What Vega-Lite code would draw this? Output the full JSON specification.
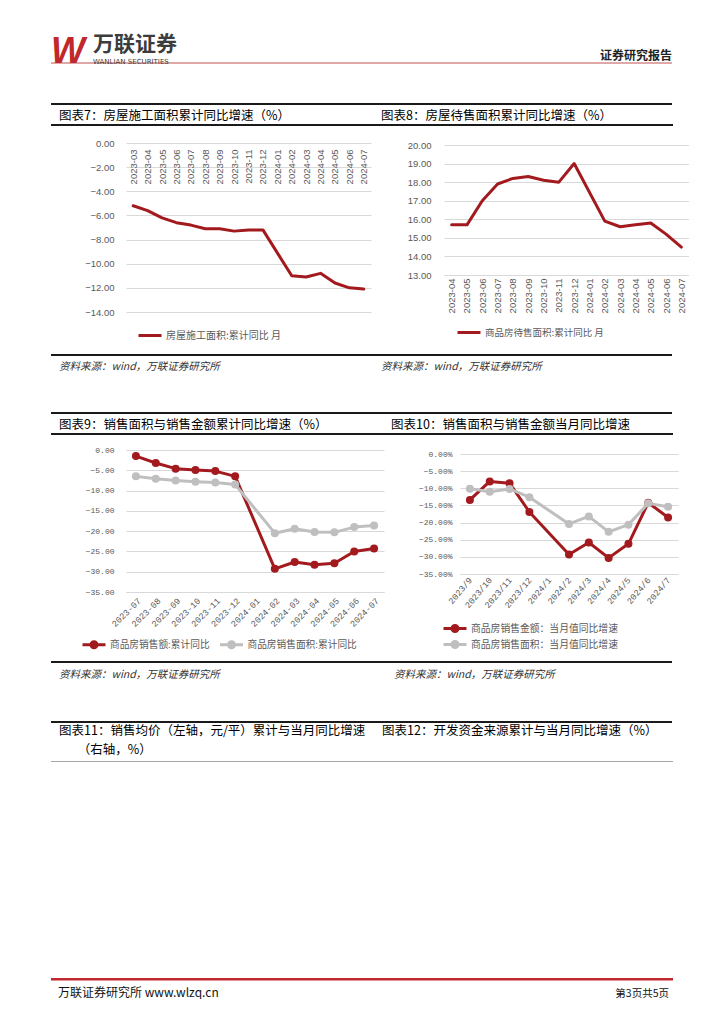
{
  "$schema": "https://vega.github.io/schema/vega-lite/v6.json",
  "background": "white",
  "padding": {"left": 50, "top": 33, "right": 0, "bottom": 0},
  "autosize": {"type": "pad"},
  "spacing": 0,
  "resolve": {"scale": {"color": "independent"}, "legend": {"color": "independent"}},
  "config": {
    "view": {"stroke": null},
    "concat": {"spacing": 0},
    "font": "Noto Sans CJK SC",
    "title": {"font": "Noto Sans CJK SC", "fontWeight": "normal", "color": "#000000", "anchor": "start", "baseline": "top", "fontSize": 12.5},
    "axis": {"ticks": false, "tickSize": 0, "labelColor": "#595959", "gridColor": "#D9D9D9", "gridWidth": 1},
    "legend": {"padding": 0, "labelColor": "#595959", "labelFont": "Noto Sans CJK SC", "symbolOpacity": 1}
  },
  "datasets": {
    "c7": [
      {"month": "2023-03", "value": -5.2, "series": "房屋施工面积:累计同比 月"},
      {"month": "2023-04", "value": -5.6, "series": "房屋施工面积:累计同比 月"},
      {"month": "2023-05", "value": -6.2, "series": "房屋施工面积:累计同比 月"},
      {"month": "2023-06", "value": -6.6, "series": "房屋施工面积:累计同比 月"},
      {"month": "2023-07", "value": -6.8, "series": "房屋施工面积:累计同比 月"},
      {"month": "2023-08", "value": -7.1, "series": "房屋施工面积:累计同比 月"},
      {"month": "2023-09", "value": -7.1, "series": "房屋施工面积:累计同比 月"},
      {"month": "2023-10", "value": -7.3, "series": "房屋施工面积:累计同比 月"},
      {"month": "2023-11", "value": -7.2, "series": "房屋施工面积:累计同比 月"},
      {"month": "2023-12", "value": -7.2, "series": "房屋施工面积:累计同比 月"},
      {"month": "2024-02", "value": -11.0, "series": "房屋施工面积:累计同比 月"},
      {"month": "2024-03", "value": -11.1, "series": "房屋施工面积:累计同比 月"},
      {"month": "2024-04", "value": -10.8, "series": "房屋施工面积:累计同比 月"},
      {"month": "2024-05", "value": -11.6, "series": "房屋施工面积:累计同比 月"},
      {"month": "2024-06", "value": -12.0, "series": "房屋施工面积:累计同比 月"},
      {"month": "2024-07", "value": -12.1, "series": "房屋施工面积:累计同比 月"}
    ],
    "c8": [
      {"month": "2023-04", "value": 15.7, "series": "商品房待售面积:累计同比 月"},
      {"month": "2023-05", "value": 15.7, "series": "商品房待售面积:累计同比 月"},
      {"month": "2023-06", "value": 17.0, "series": "商品房待售面积:累计同比 月"},
      {"month": "2023-07", "value": 17.9, "series": "商品房待售面积:累计同比 月"},
      {"month": "2023-08", "value": 18.2, "series": "商品房待售面积:累计同比 月"},
      {"month": "2023-09", "value": 18.3, "series": "商品房待售面积:累计同比 月"},
      {"month": "2023-10", "value": 18.1, "series": "商品房待售面积:累计同比 月"},
      {"month": "2023-11", "value": 18.0, "series": "商品房待售面积:累计同比 月"},
      {"month": "2023-12", "value": 19.0, "series": "商品房待售面积:累计同比 月"},
      {"month": "2024-02", "value": 15.9, "series": "商品房待售面积:累计同比 月"},
      {"month": "2024-03", "value": 15.6, "series": "商品房待售面积:累计同比 月"},
      {"month": "2024-04", "value": 15.7, "series": "商品房待售面积:累计同比 月"},
      {"month": "2024-05", "value": 15.8, "series": "商品房待售面积:累计同比 月"},
      {"month": "2024-06", "value": 15.2, "series": "商品房待售面积:累计同比 月"},
      {"month": "2024-07", "value": 14.5, "series": "商品房待售面积:累计同比 月"}
    ],
    "c9": [
      {"month": "2023-07", "value": -1.5, "series": "商品房销售额:累计同比"},
      {"month": "2023-08", "value": -3.2, "series": "商品房销售额:累计同比"},
      {"month": "2023-09", "value": -4.6, "series": "商品房销售额:累计同比"},
      {"month": "2023-10", "value": -4.9, "series": "商品房销售额:累计同比"},
      {"month": "2023-11", "value": -5.2, "series": "商品房销售额:累计同比"},
      {"month": "2023-12", "value": -6.5, "series": "商品房销售额:累计同比"},
      {"month": "2024-02", "value": -29.3, "series": "商品房销售额:累计同比"},
      {"month": "2024-03", "value": -27.6, "series": "商品房销售额:累计同比"},
      {"month": "2024-04", "value": -28.3, "series": "商品房销售额:累计同比"},
      {"month": "2024-05", "value": -27.9, "series": "商品房销售额:累计同比"},
      {"month": "2024-06", "value": -25.0, "series": "商品房销售额:累计同比"},
      {"month": "2024-07", "value": -24.3, "series": "商品房销售额:累计同比"},
      {"month": "2023-07", "value": -6.5, "series": "商品房销售面积:累计同比"},
      {"month": "2023-08", "value": -7.1, "series": "商品房销售面积:累计同比"},
      {"month": "2023-09", "value": -7.5, "series": "商品房销售面积:累计同比"},
      {"month": "2023-10", "value": -7.8, "series": "商品房销售面积:累计同比"},
      {"month": "2023-11", "value": -8.0, "series": "商品房销售面积:累计同比"},
      {"month": "2023-12", "value": -8.5, "series": "商品房销售面积:累计同比"},
      {"month": "2024-02", "value": -20.5, "series": "商品房销售面积:累计同比"},
      {"month": "2024-03", "value": -19.4, "series": "商品房销售面积:累计同比"},
      {"month": "2024-04", "value": -20.2, "series": "商品房销售面积:累计同比"},
      {"month": "2024-05", "value": -20.3, "series": "商品房销售面积:累计同比"},
      {"month": "2024-06", "value": -19.0, "series": "商品房销售面积:累计同比"},
      {"month": "2024-07", "value": -18.6, "series": "商品房销售面积:累计同比"}
    ],
    "c10": [
      {"month": "2023/9", "value": -13.4, "series": "商品房销售金额：当月值同比增速"},
      {"month": "2023/10", "value": -8.0, "series": "商品房销售金额：当月值同比增速"},
      {"month": "2023/11", "value": -8.5, "series": "商品房销售金额：当月值同比增速"},
      {"month": "2023/12", "value": -16.9, "series": "商品房销售金额：当月值同比增速"},
      {"month": "2024/2", "value": -29.3, "series": "商品房销售金额：当月值同比增速"},
      {"month": "2024/3", "value": -25.8, "series": "商品房销售金额：当月值同比增速"},
      {"month": "2024/4", "value": -30.3, "series": "商品房销售金额：当月值同比增速"},
      {"month": "2024/5", "value": -26.2, "series": "商品房销售金额：当月值同比增速"},
      {"month": "2024/6", "value": -14.2, "series": "商品房销售金额：当月值同比增速"},
      {"month": "2024/7", "value": -18.5, "series": "商品房销售金额：当月值同比增速"},
      {"month": "2023/9", "value": -10.1, "series": "商品房销售面积：当月值同比增速"},
      {"month": "2023/10", "value": -11.0, "series": "商品房销售面积：当月值同比增速"},
      {"month": "2023/11", "value": -10.2, "series": "商品房销售面积：当月值同比增速"},
      {"month": "2023/12", "value": -12.6, "series": "商品房销售面积：当月值同比增速"},
      {"month": "2024/2", "value": -20.4, "series": "商品房销售面积：当月值同比增速"},
      {"month": "2024/3", "value": -18.2, "series": "商品房销售面积：当月值同比增速"},
      {"month": "2024/4", "value": -22.7, "series": "商品房销售面积：当月值同比增速"},
      {"month": "2024/5", "value": -20.6, "series": "商品房销售面积：当月值同比增速"},
      {"month": "2024/6", "value": -14.4, "series": "商品房销售面积：当月值同比增速"},
      {"month": "2024/7", "value": -15.4, "series": "商品房销售面积：当月值同比增速"}
    ]
  },
  "vconcat": [
    {
      "hconcat": [
        {
          "width": 621, "height": 28,
          "data": {"values": [{}]},
          "layer": [
            {"mark": {"type": "rule", "color": "#C0504D", "strokeWidth": 1.2},
             "encoding": {"y": {"datum": 0, "type": "quantitative", "scale": {"domain": [0, 1]}, "axis": null}}},
            {"mark": {"type": "text", "text": "W", "align": "left", "baseline": "alphabetic", "font": "Liberation Sans", "fontSize": 36, "fontWeight": "bold", "fontStyle": "italic", "color": "#C1272D"},
             "encoding": {"x": {"datum": 0, "type": "quantitative", "scale": {"domain": [0, 1]}, "axis": null}, "y": {"datum": 0, "type": "quantitative", "axis": null}}},
            {"mark": {"type": "text", "text": "万联证券", "align": "left", "baseline": "alphabetic", "dx": 42, "dy": -12.5, "font": "Noto Sans CJK SC", "fontSize": 21, "fontWeight": "bold", "color": "#3C3C3C"},
             "encoding": {"x": {"datum": 0, "type": "quantitative", "axis": null}, "y": {"datum": 0, "type": "quantitative", "axis": null}}},
            {"mark": {"type": "text", "text": "WANLIAN SECURITIES", "align": "left", "baseline": "alphabetic", "dx": 42, "dy": 0.5, "font": "DejaVu Sans", "fontSize": 7, "color": "#3C3C3C"},
             "encoding": {"x": {"datum": 0, "type": "quantitative", "axis": null}, "y": {"datum": 0, "type": "quantitative", "axis": null}}},
            {"mark": {"type": "text", "text": "证券研究报告", "align": "right", "baseline": "alphabetic", "dy": -3, "font": "Noto Sans CJK SC", "fontSize": 12, "fontWeight": "bold", "color": "#222222"},
             "encoding": {"x": {"datum": 1, "type": "quantitative", "axis": null}, "y": {"datum": 0, "type": "quantitative", "axis": null}}}
          ]
        },
        {"width": 1, "height": 68, "data": {"values": []}, "mark": "point"}
      ]
    },
    {
      "hconcat": [
        {"width": 323, "height": 2, "data": {"values": []}, "mark": "point", "view": {"fill": "#1A1A1A", "stroke": null},
         "title": {"text": "图表7：房屋施工面积累计同比增速（%）", "orient": "bottom", "anchor": "start", "dx": 8, "offset": 4.5}},
        {"width": 298, "height": 2, "data": {"values": []}, "mark": "point", "view": {"fill": "#1A1A1A", "stroke": null},
         "title": {"text": "图表8：房屋待售面积累计同比增速（%）", "orient": "bottom", "anchor": "start", "dx": 7, "offset": 4.5}},
        {"width": 1, "height": 21, "data": {"values": []}, "mark": "point"}
      ]
    },
    {
      "hconcat": [
        {"width": 622, "height": 2, "data": {"values": []}, "mark": "point", "view": {"fill": "#1A1A1A", "stroke": null}},
        {"width": 1, "height": 14, "data": {"values": []}, "mark": "point"}
      ]
    },
    {
      "resolve": {"scale": {"color": "independent"}, "legend": {"color": "independent"}},
      "hconcat": [
        {"width": 0, "height": 211, "data": {"values": []}, "mark": "point"},
        {
          "width": 245, "height": 169,
          "data": {"name": "c7"},
          "mark": {"type": "line", "strokeWidth": 3, "strokeJoin": "round", "strokeCap": "round"},
          "encoding": {
            "x": {"field": "month", "type": "ordinal", "sort": null,
                  "scale": {"type": "point", "padding": 0.5, "domain": ["2023-03","2023-04","2023-05","2023-06","2023-07","2023-08","2023-09","2023-10","2023-11","2023-12","2024-01","2024-02","2024-03","2024-04","2024-05","2024-06","2024-07"]},
                  "axis": {"title": null, "orient": "top", "labelAngle": -90, "labelAlign": "right", "labelBaseline": "middle", "labelPadding": -6, "tickSize": 0, "ticks": false, "domain": false, "grid": false, "labelFont": "Liberation Sans", "labelFontSize": 9.5, "labelOverlap": false}},
            "y": {"field": "value", "type": "quantitative", "scale": {"domain": [-14, 0], "nice": false, "zero": false},
                  "axis": {"title": null, "values": [0, -2, -4, -6, -8, -10, -12, -14], "format": ".2f", "labelPadding": 12, "minExtent": 55, "maxExtent": 55, "domain": false, "ticks": false, "grid": true, "labelFont": "Liberation Sans", "labelFontSize": 9.5}},
            "color": {"field": "series", "type": "nominal", "scale": {"range": ["#A31A1E"]},
                      "legend": {"orient": "none", "legendX": 17.5, "legendY": 186, "direction": "horizontal", "title": null, "symbolType": "M-2.3,0H2.3", "symbolSize": 100, "symbolStrokeWidth": 3, "labelFontSize": 10, "labelOffset": 9.5, "labelLimit": 400}}
          }
        },
        {
          "width": 245, "height": 132,
          "data": {"name": "c8"},
          "mark": {"type": "line", "strokeWidth": 3, "strokeJoin": "round", "strokeCap": "round"},
          "encoding": {
            "x": {"field": "month", "type": "ordinal", "sort": null,
                  "scale": {"type": "point", "padding": 0.5, "domain": ["2023-04","2023-05","2023-06","2023-07","2023-08","2023-09","2023-10","2023-11","2023-12","2024-01","2024-02","2024-03","2024-04","2024-05","2024-06","2024-07"]},
                  "axis": {"title": null, "labelAngle": -90, "labelAlign": "right", "labelBaseline": "middle", "labelPadding": 3, "tickSize": 0, "ticks": false, "domain": true, "domainColor": "#D9D9D9", "grid": false, "labelFont": "Liberation Sans", "labelFontSize": 9.5, "labelOverlap": false}},
            "y": {"field": "value", "type": "quantitative", "scale": {"domain": [13, 20.108], "nice": false, "zero": false},
                  "axis": {"title": null, "values": [13, 14, 15, 16, 17, 18, 19, 20], "format": ".2f", "labelPadding": 13, "minExtent": 73, "maxExtent": 73, "domain": false, "ticks": false, "grid": true, "labelFont": "Liberation Sans", "labelFontSize": 9.5}},
            "color": {"field": "series", "type": "nominal", "scale": {"range": ["#A31A1E"]},
                      "legend": {"orient": "none", "legendX": 18.5, "legendY": 183, "direction": "horizontal", "title": null, "symbolType": "M-2.3,0H2.3", "symbolSize": 100, "symbolStrokeWidth": 3, "labelFontSize": 9.5, "labelOffset": 9.5, "labelLimit": 400}}
          }
        }
      ]
    },
    {
      "hconcat": [
        {"width": 323, "height": 2, "data": {"values": []}, "mark": "point", "view": {"fill": "#1A1A1A", "stroke": null},
         "title": {"text": "资料来源：wind，万联证券研究所", "orient": "bottom", "anchor": "start", "dx": 8, "offset": 5.7, "fontSize": 10.5, "fontStyle": "italic", "color": "#333333"}},
        {"width": 298, "height": 2, "data": {"values": []}, "mark": "point", "view": {"fill": "#1A1A1A", "stroke": null},
         "title": {"text": "资料来源：wind，万联证券研究所", "orient": "bottom", "anchor": "start", "dx": 7, "offset": 5.7, "fontSize": 10.5, "fontStyle": "italic", "color": "#333333"}},
        {"width": 1, "height": 58, "data": {"values": []}, "mark": "point"}
      ]
    },
    {
      "hconcat": [
        {"width": 323, "height": 2, "data": {"values": []}, "mark": "point", "view": {"fill": "#1A1A1A", "stroke": null},
         "title": {"text": "图表9：销售面积与销售金额累计同比增速（%）", "orient": "bottom", "anchor": "start", "dx": 8, "offset": 5}},
        {"width": 298, "height": 2, "data": {"values": []}, "mark": "point", "view": {"fill": "#1A1A1A", "stroke": null},
         "title": {"text": "图表10：销售面积与销售金额当月同比增速", "orient": "bottom", "anchor": "start", "dx": 17, "offset": 5}},
        {"width": 1, "height": 21, "data": {"values": []}, "mark": "point"}
      ]
    },
    {
      "hconcat": [
        {"width": 622, "height": 2, "data": {"values": []}, "mark": "point", "view": {"fill": "#1A1A1A", "stroke": null}},
        {"width": 1, "height": 13, "data": {"values": []}, "mark": "point"}
      ]
    },
    {
      "resolve": {"scale": {"color": "independent"}, "legend": {"color": "independent"}},
      "hconcat": [
        {"width": 0, "height": 211, "data": {"values": []}, "mark": "point"},
        {
          "width": 258, "height": 142,
          "data": {"name": "c9"},
          "encoding": {
            "x": {"field": "month", "type": "ordinal", "sort": null,
                  "scale": {"type": "point", "padding": 0.5, "domain": ["2023-07","2023-08","2023-09","2023-10","2023-11","2023-12","2024-01","2024-02","2024-03","2024-04","2024-05","2024-06","2024-07"]},
                  "axis": {"title": null, "labelAngle": -45, "labelPadding": 4, "tickSize": 0, "ticks": false, "domain": true, "domainColor": "#D9D9D9", "grid": false, "labelFont": "Liberation Mono", "labelFontSize": 8.8, "labelOverlap": false}},
            "y": {"field": "value", "type": "quantitative", "scale": {"domain": [-35, 0], "nice": false, "zero": false},
                  "axis": {"title": null, "values": [0, -5, -10, -15, -20, -25, -30, -35], "format": ".2f", "labelPadding": 12, "minExtent": 55, "maxExtent": 55, "domain": false, "ticks": false, "grid": true, "labelFont": "Liberation Mono", "labelFontSize": 8}},
            "color": {"field": "series", "type": "nominal", "sort": null,
                      "scale": {"domain": ["商品房销售额:累计同比", "商品房销售面积:累计同比"], "range": ["#A31A1E", "#BFBFBF"]},
                      "legend": {"orient": "none", "legendX": -38.5, "legendY": 188, "direction": "horizontal", "title": null,
                                 "symbolType": "M-2.3,0H2.3M-0.6,0A0.6,0.6 0 1,0 0.6,0A0.6,0.6 0 1,0 -0.6,0Z", "symbolSize": 100, "symbolStrokeWidth": 3,
                                 "labelFontSize": 9.7, "labelOffset": 9.5, "columnPadding": 3.5, "labelLimit": 400,
                                 "encode": {"symbols": {"update": {
                                   "fill": {"signal": "datum.index == 0 ? '#A31A1E' : '#BFBFBF'"},
                                   "stroke": {"signal": "datum.index == 0 ? '#A31A1E' : '#BFBFBF'"},
                                   "strokeWidth": {"value": 3},
                                   "opacity": {"value": 1},
                                   "shape": {"value": "M-2.3,0H2.3M-0.6,0A0.6,0.6 0 1,0 0.6,0A0.6,0.6 0 1,0 -0.6,0Z"},
                                   "size": {"value": 100}
                                 }}}}}
          },
          "layer": [
            {"mark": {"type": "line", "strokeWidth": 3, "strokeJoin": "round"}},
            {"mark": {"type": "point", "filled": true, "size": 64, "opacity": 1}}
          ]
        },
        {
          "width": 218, "height": 124,
          "data": {"name": "c10"},
          "encoding": {
            "x": {"field": "month", "type": "ordinal", "sort": null,
                  "scale": {"type": "point", "padding": 0.5, "domain": ["2023/9","2023/10","2023/11","2023/12","2024/1","2024/2","2024/3","2024/4","2024/5","2024/6","2024/7"]},
                  "axis": {"title": null, "labelAngle": -50, "labelPadding": 4, "tickSize": 0, "ticks": false, "domain": true, "domainColor": "#D9D9D9", "grid": false, "labelFont": "Liberation Mono", "labelFontSize": 8.8, "labelOverlap": false}},
            "y": {"field": "value", "type": "quantitative", "scale": {"domain": [-35, 1.1667], "nice": false, "zero": false},
                  "axis": {"title": null, "values": [0, -5, -10, -15, -20, -25, -30, -35], "format": ".2f", "labelExpr": "datum.label + '%'", "labelPadding": 8, "minExtent": 76, "maxExtent": 76, "domain": false, "ticks": false, "grid": true, "labelFont": "Liberation Mono", "labelFontSize": 8}},
            "color": {"field": "series", "type": "nominal", "sort": null,
                      "scale": {"domain": ["商品房销售金额：当月值同比增速", "商品房销售面积：当月值同比增速"], "range": ["#A31A1E", "#BFBFBF"]},
                      "legend": {"orient": "none", "legendX": -11.5, "legendY": 172, "direction": "vertical", "title": null,
                                 "symbolType": "M-2.3,0H2.3M-0.6,0A0.6,0.6 0 1,0 0.6,0A0.6,0.6 0 1,0 -0.6,0Z", "symbolSize": 100, "symbolStrokeWidth": 3,
                                 "labelFontSize": 9.8, "labelOffset": 9.5, "rowPadding": -4, "labelLimit": 400,
                                 "encode": {"symbols": {"update": {
                                   "fill": {"signal": "datum.index == 0 ? '#A31A1E' : '#BFBFBF'"},
                                   "stroke": {"signal": "datum.index == 0 ? '#A31A1E' : '#BFBFBF'"},
                                   "strokeWidth": {"value": 3},
                                   "opacity": {"value": 1},
                                   "shape": {"value": "M-2.3,0H2.3M-0.6,0A0.6,0.6 0 1,0 0.6,0A0.6,0.6 0 1,0 -0.6,0Z"},
                                   "size": {"value": 100}
                                 }}}}}
          },
          "layer": [
            {"mark": {"type": "line", "strokeWidth": 3, "strokeJoin": "round"}},
            {"mark": {"type": "point", "filled": true, "size": 64, "opacity": 1}}
          ]
        }
      ]
    },
    {
      "hconcat": [
        {"width": 323, "height": 2, "data": {"values": []}, "mark": "point", "view": {"fill": "#1A1A1A", "stroke": null},
         "title": {"text": "资料来源：wind，万联证券研究所", "orient": "bottom", "anchor": "start", "dx": 8, "offset": 6.7, "fontSize": 10.5, "fontStyle": "italic", "color": "#333333"}},
        {"width": 298, "height": 2, "data": {"values": []}, "mark": "point", "view": {"fill": "#1A1A1A", "stroke": null},
         "title": {"text": "资料来源：wind，万联证券研究所", "orient": "bottom", "anchor": "start", "dx": 20, "offset": 6.7, "fontSize": 10.5, "fontStyle": "italic", "color": "#333333"}},
        {"width": 1, "height": 60, "data": {"values": []}, "mark": "point"}
      ]
    },
    {
      "hconcat": [
        {"width": 323, "height": 2, "data": {"values": []}, "mark": "point", "view": {"fill": "#1A1A1A", "stroke": null},
         "title": {"text": ["图表11：销售均价（左轴，元/平）累计与当月同比增速", "\u200b\u3000\u2002（右轴，%）"], "orient": "bottom", "anchor": "start", "dx": 8, "offset": 2, "lineHeight": 19}},
        {"width": 298, "height": 2, "data": {"values": []}, "mark": "point", "view": {"fill": "#1A1A1A", "stroke": null},
         "title": {"text": "图表12：开发资金来源累计与当月同比增速（%）", "orient": "bottom", "anchor": "start", "dx": 8, "offset": 2}},
        {"width": 1, "height": 40, "data": {"values": []}, "mark": "point"}
      ]
    },
    {
      "hconcat": [
        {"width": 622, "height": 1, "data": {"values": []}, "mark": "point", "view": {"fill": "#A6A6A6", "stroke": null}},
        {"width": 1, "height": 217, "data": {"values": []}, "mark": "point"}
      ]
    },
    {
      "hconcat": [
        {"width": 400, "height": 2.5, "data": {"values": []}, "mark": "point", "view": {"fill": "#C0282D", "stroke": null},
         "title": {"text": "万联证券研究所  www.wlzq.cn", "orient": "bottom", "anchor": "start", "dx": 7, "offset": 7.5, "fontSize": 12, "color": "#111111"}},
        {"width": 222, "height": 2.5, "data": {"values": []}, "mark": "point", "view": {"fill": "#C0282D", "stroke": null},
         "title": {"text": "第3页共5页", "orient": "bottom", "anchor": "end", "dx": -4, "offset": 8, "fontSize": 10.5, "color": "#111111"}}
      ]
    }
  ]
}
